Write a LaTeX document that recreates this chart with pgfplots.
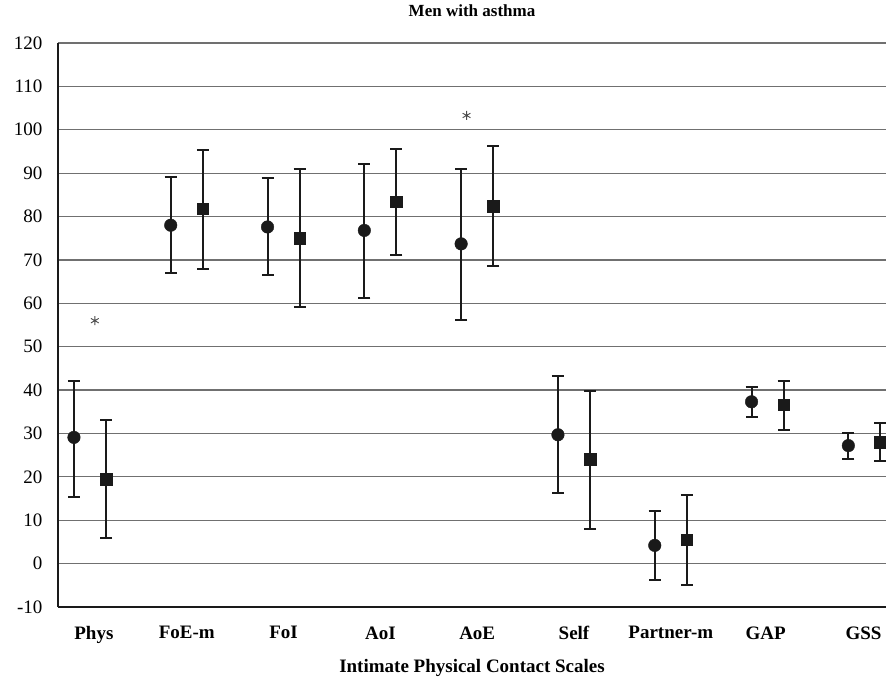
\documentclass[border=0pt]{standalone}
\usepackage{fontspec}
\setmainfont{Liberation Serif}
\usepackage{pgfplots}
\usepackage{pgfplotstable}
\pgfplotsset{compat=1.18}
\definecolor{ink}{HTML}{1A1A1A}
\definecolor{gridc}{HTML}{707070}

% circles: first group, squares: second group (x = category index -/+ offset)
\pgfplotstableread{
x      y     ep    em
-0.166 29.1  13.1  13.7
0.834  78.0  11.1  11.1
1.834  77.6  11.2  11.1
2.834  76.8  15.4  15.6
3.834  73.7  17.3  17.5
4.834  29.7  13.5  13.4
5.834  4.2   7.9   8.0
6.834  37.3  3.3   3.6
7.834  27.2  2.8   3.1
}\circdata
\pgfplotstableread{
x      y     ep    em
0.166  19.4  13.6  13.5
1.166  81.8  13.6  13.9
2.166  75.0  16.0  15.9
3.166  83.4  12.1  12.3
4.166  82.4  13.8  13.9
5.166  24.0  15.7  16.0
6.166  5.5   10.3  10.4
7.166  36.6  5.4   5.7
8.166  28.0  4.3   4.3
}\squaredata

\begin{document}
\begin{tikzpicture}
\begin{axis}[
  name=ax, at={(0,0)}, anchor=south west,
  scale only axis, width=828pt, height=564pt,
  xmin=-0.3306, xmax=8.223,
  ymin=-10, ymax=120,
  ytick={-10,0,...,120},
  xtick={0.04,1,2,3,4,5,6,6.98,7.99},
  xticklabels={Phys,FoE-m,FoI,AoI,AoE,Self,Partner-m,GAP,GSS},
  major tick length=0pt,
  axis x line*=bottom, axis y line*=left,
  axis line style={line width=1.8pt, ink},
  ymajorgrids, grid style={line width=1.3pt, gridc},
  /pgf/number format/assume math mode=true,
  yticklabel style={font=\fontsize{19}{22}\selectfont, xshift=-12pt},
  xticklabel style={font=\fontsize{19}{22}\selectfont\bfseries, yshift=-16pt},
  title={Men with asthma},
  title style={font=\fontsize{17}{20}\selectfont\bfseries, at={(0.5,1)}, anchor=center, yshift=26pt},
  xlabel={Intimate Physical Contact Scales},
  xlabel style={font=\fontsize{19}{22}\selectfont\bfseries, at={(0.5,0)}, anchor=center, yshift=-61pt},
  clip=false,
]
\addplot[only marks, mark=*, mark size=6.3pt, ink,
  error bars/.cd, y dir=both, y explicit,
  error bar style={line width=2pt, ink},
  error mark options={rotate=90, mark size=6pt, line width=2pt, ink}]
  table[x=x, y=y, y error plus=ep, y error minus=em]{\circdata};
\addplot[only marks, mark=square*, mark size=5.8pt, ink,
  error bars/.cd, y dir=both, y explicit,
  error bar style={line width=2pt, ink},
  error mark options={rotate=90, mark size=6pt, line width=2pt, ink}]
  table[x=x, y=y, y error plus=ep, y error minus=em]{\squaredata};
% significance markers
\addplot[only marks, mark=asterisk, mark size=4.5pt, black!70, line width=0.9pt]
  coordinates {(0.05,56.0) (3.89,103.3)};
\end{axis}
\pgfresetboundingbox
\useasboundingbox (ax.south west) ++(-58pt,-71pt) rectangle ++(886pt,678pt);
\end{tikzpicture}
\end{document}
